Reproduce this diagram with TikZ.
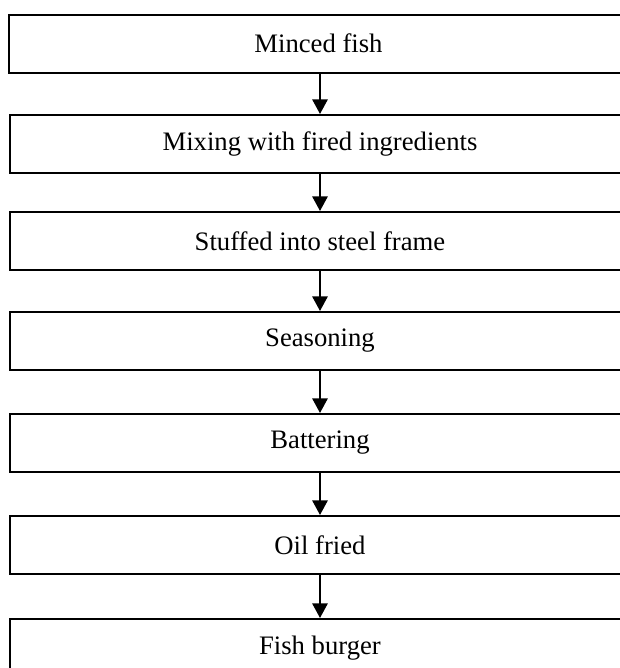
\documentclass[tikz,border=0pt]{standalone}
\usepackage{fontspec}
\setmainfont{Liberation Serif}
\usetikzlibrary{arrows.meta}
\begin{document}
\begin{tikzpicture}[x=0.75pt,y=-0.75pt,
  stepbox/.style={draw=black,line width=1.5pt,rectangle,minimum width=465pt,minimum height=43.5pt,inner sep=0pt,font=\fontsize{20pt}{24pt}\selectfont,anchor=center},
  flow/.style={line width=1.5pt,-{Triangle[width=11.5pt,length=11pt]}}]
\useasboundingbox (0,0) rectangle (619,668);
\node[stepbox] (b1) at (318.5,43.5) {Minced fish};
\node[stepbox] (b2) at (320,144) {Mixing with fired ingredients};
\node[stepbox] (b3) at (320,241) {Stuffed into steel frame};
\node[stepbox] (b4) at (320,341) {Seasoning};
\node[stepbox] (b5) at (320,443) {Battering};
\node[stepbox] (b6) at (320,545) {Oil fried};
\node[stepbox] (b7) at (320,648) {Fish burger};
\draw[flow] (b1.south -| b2) -- (b2);
\draw[flow] (b2) -- (b3);
\draw[flow] (b3) -- (b4);
\draw[flow] (b4) -- (b5);
\draw[flow] (b5) -- (b6);
\draw[flow] (b6) -- (b7);
\end{tikzpicture}
\end{document}
